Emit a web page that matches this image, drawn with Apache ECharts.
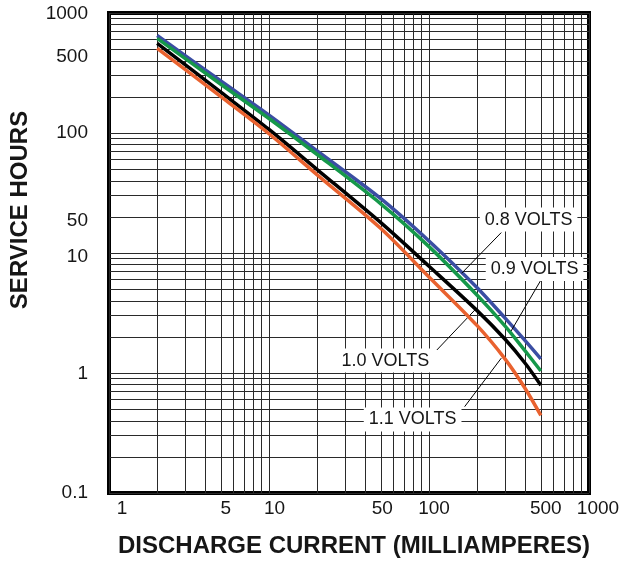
<!DOCTYPE html>
<html><head><meta charset="utf-8">
<script src="https://cdn.jsdelivr.net/npm/echarts@6/dist/echarts.min.js"></script>
<style>html,body{margin:0;padding:0;background:#fff}#c{width:624px;height:565px}</style>
</head><body><div id="c"></div>
<script>
// Discharge current (mA) and service hours per end voltage
const currents = [2, 5, 10, 20, 50, 100, 200, 300, 400, 500];
const volts08 = [649, 271, 141, 70.8, 28.4, 12.6, 5.13, 2.85, 1.85, 1.31];
const volts09 = [615, 255, 132, 66.2, 25.7, 11.3, 4.45, 2.45, 1.52, 1.04];
const volts10 = [559, 219, 107, 49.6, 17.9, 7.76, 3.31, 1.9, 1.2, 0.79];
const volts11 = [508, 201, 98.6, 44.8, 16.0, 6.31, 2.48, 1.30, 0.74, 0.443];
const seriesNames = ['0.8 VOLTS', '0.9 VOLTS', '1.0 VOLTS', '1.1 VOLTS'];

const xTickValues = [1, 5, 10, 50, 100, 500, 1000];
const xTickLabels = ['1', '5', '10', '50', '100', '500', '1000'];
const yTickValues = [0.1, 1, 10, 20, 100, 500, 1000];
const yTickLabels = ['0.1', '1', '10', '50', '100', '500', '1000'];
const xGridValues = [1,2,3,4,5,6,7,8,9,10,20,30,40,50,60,70,80,90,100,200,300,400,500,600,700,800,900,1000];
const yGridValues = [0.1,0.2,0.3,0.4,0.5,0.6,0.7,0.8,0.9,1,2,3,4,5,6,7,8,9,10,20,30,40,50,60,70,80,90,100,200,300,400,500,600,700,800,900,1000];

// annotation: label anchor [mA, hours], arrow start, arrow end
const annoLabel = [[419, 19.0], [457, 7.36], [53.4, 1.27], [79, 0.41]];
const annoFrom = [[283, 14.8], [501, 5.96], [112, 1.555], [167, 0.524]];
const annoTo = [[160, 6.78], [326, 2.24], [193.5, 3.35], [283, 1.33]];

const FONT = 'Liberation Sans, Arial, Helvetica, sans-serif';
const colors = ['#3b4ea3', '#15984a', '#000000', '#e9622f'];
const values = [volts08, volts09, volts10, volts11];

const xOffsets = {1: 26, 5: 10, 10: 11, 50: 3, 100: 10, 500: 10, 1000: 18};
const yOffsets = {0.1: 0, 1: 2, 10: 8, 20: 8, 100: 0, 500: 16, 1000: 2};

const xRich = {}, yRich = {};
xTickValues.forEach((v, i) => { xRich['x' + i] = {padding: [0, 0, 0, xOffsets[v]], fontSize: 19, fontFamily: FONT, color: '#161616'}; });
yTickValues.forEach((v, i) => { yRich['y' + i] = {padding: [yOffsets[v], 0, 0, 0], fontSize: 19, fontFamily: FONT, color: '#161616'}; });

function nearestIdx(arr, v) {
  let best = 0;
  arr.forEach((a, i) => { if (Math.abs(Math.log10(a) - Math.log10(v)) < Math.abs(Math.log10(arr[best]) - Math.log10(v))) best = i; });
  return best;
}

const series = values.map((vals, k) => ({
  name: seriesNames[k],
  type: 'line',
  data: currents.map((c, i) => [c, vals[i]]),
  smooth: 0.3,
  symbol: 'none',
  lineStyle: {color: colors[k], width: 3.5},
  z: 3 + k,
  markPoint: {
    symbol: 'rect', symbolSize: 0, silent: true,
    data: [{coord: annoLabel[k], value: seriesNames[k]}],
    label: {show: true, position: 'inside', formatter: seriesNames[k], backgroundColor: '#fff',
      padding: [3, 5, 3, 5], color: '#161616', fontSize: 18, fontFamily: FONT}
  },
  markLine: {
    silent: true, symbol: ['none', 'arrow'], symbolSize: [0, 9],
    lineStyle: {color: '#000', width: 1, type: 'solid'},
    label: {show: false},
    data: [[{coord: annoFrom[k]}, {coord: annoTo[k]}]]
  }
}));

const chart = echarts.init(document.getElementById('c'));
chart.setOption({
  animation: false,
  backgroundColor: '#fff',
  grid: {left: 104, right: 35, top: 13, bottom: 72, show: true, borderColor: '#000', borderWidth: 4, backgroundColor: 'transparent'},
  xAxis: {
    type: 'log', logBase: 10, min: 1, max: 1000,
    axisLine: {show: false},
    axisTick: {show: false, customValues: xGridValues},
    splitLine: {show: true, lineStyle: {color: '#2a2a2a', width: 1}},
    axisLabel: {
      customValues: xTickValues, margin: 6, rich: xRich,
      formatter: v => { const i = nearestIdx(xTickValues, v); return '{x' + i + '|' + xTickLabels[i] + '}'; }
    },
    name: 'DISCHARGE CURRENT (MILLIAMPERES)', nameLocation: 'middle', nameGap: 41,
    nameTextStyle: {fontWeight: 'bold', fontSize: 24, fontFamily: FONT, color: '#161616', padding: [0, 0, 0, 10]}
  },
  yAxis: {
    type: 'log', logBase: 10, min: 0.1, max: 1000,
    axisLine: {show: false},
    axisTick: {show: false, customValues: yGridValues},
    splitLine: {show: true, lineStyle: {color: '#2a2a2a', width: 1}},
    axisLabel: {
      customValues: yTickValues, margin: 21, rich: yRich,
      formatter: v => { const i = nearestIdx(yTickValues, v); return '{y' + i + '|' + yTickLabels[i] + '}'; }
    },
    name: 'SERVICE HOURS', nameLocation: 'middle', nameGap: 77, nameRotate: 90,
    nameTextStyle: {fontWeight: 'bold', fontSize: 24, fontFamily: FONT, color: '#161616', padding: [0, 0, 0, 86]}
  },
  series: series
});
</script></body></html>
